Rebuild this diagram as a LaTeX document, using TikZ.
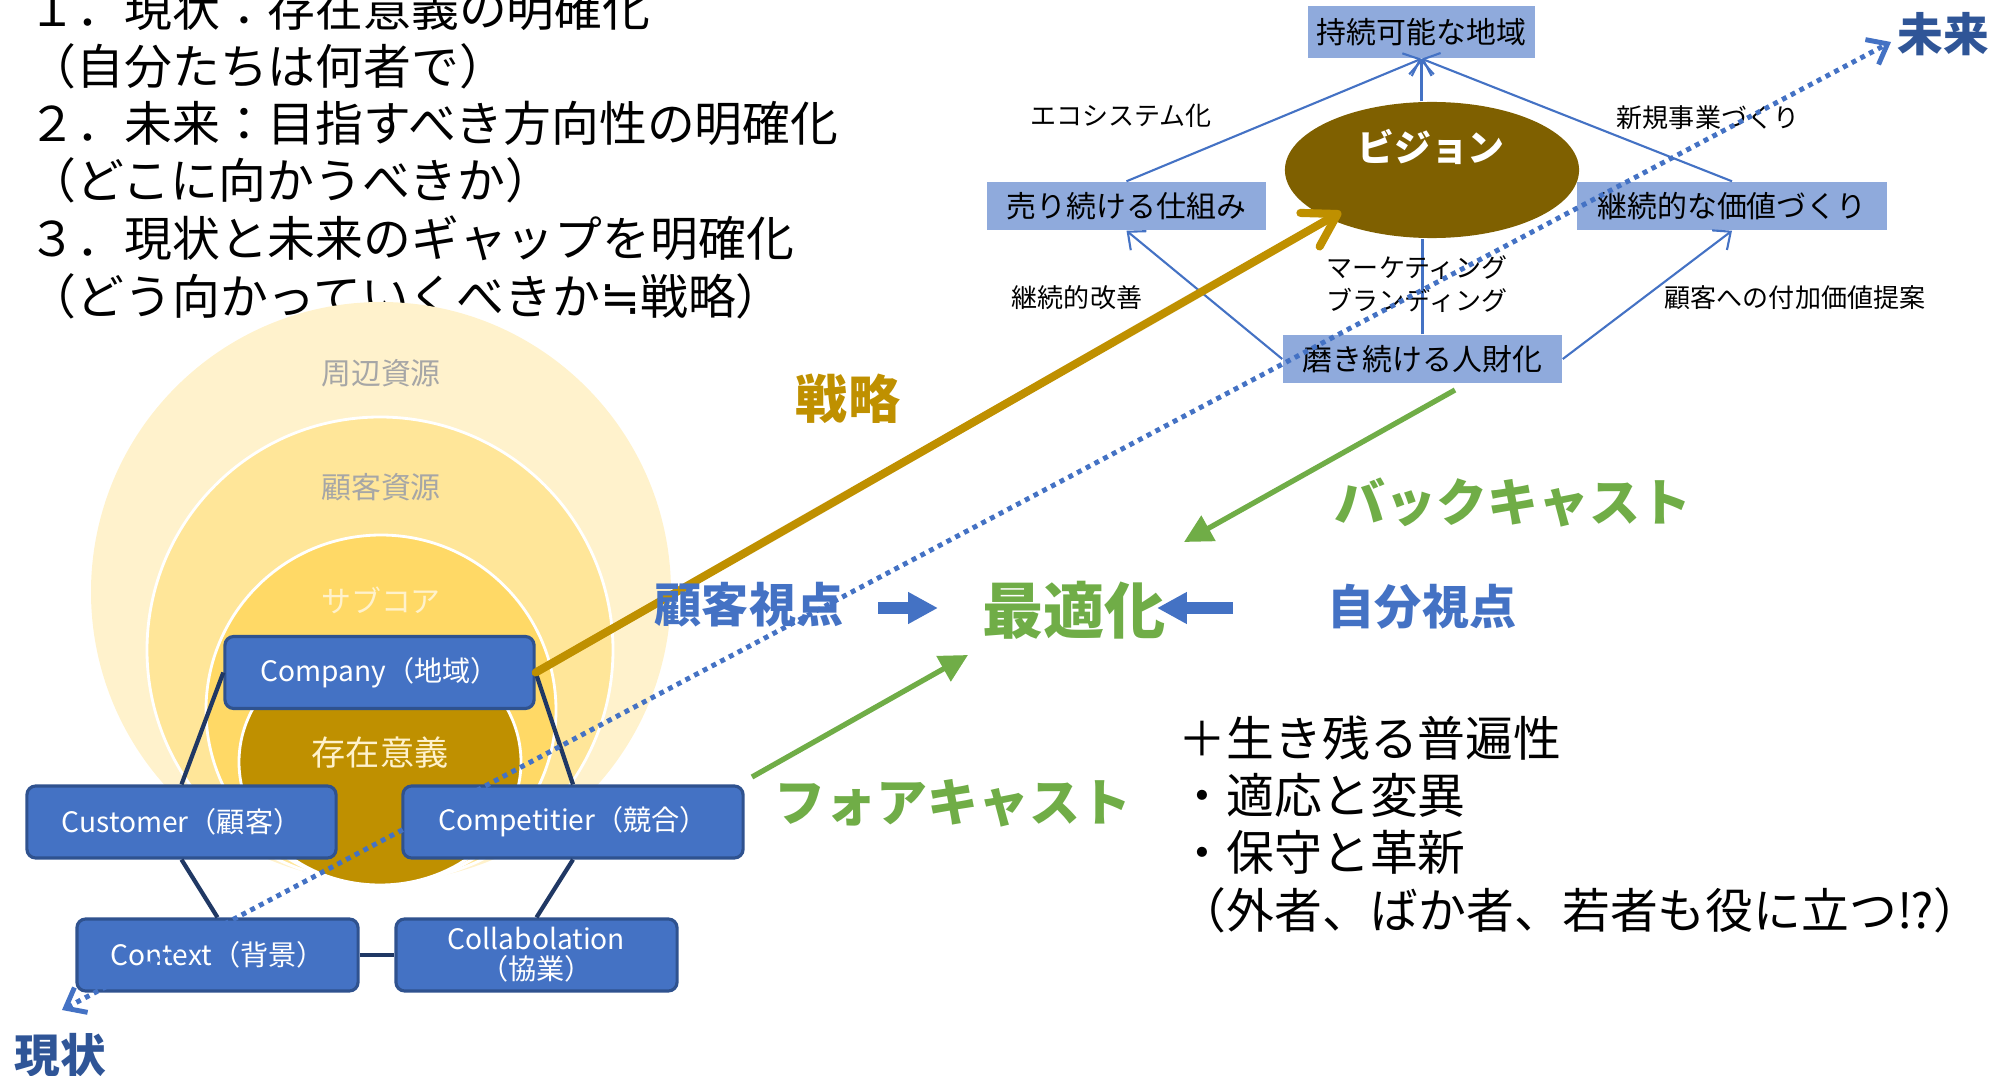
\documentclass[tikz,border=0pt]{standalone}
\usepackage{fontspec}
\setmainfont{Noto Sans CJK JP}
\newfontfamily\symfont{DejaVu Sans}
\usetikzlibrary{arrows.meta,shapes.geometric}
\definecolor{cpale}{HTML}{FFF2CC}
\definecolor{cmid}{HTML}{FFE699}
\definecolor{csub}{HTML}{FFD966}
\definecolor{ccore}{HTML}{BF9000}
\definecolor{chex}{HTML}{4472C4}
\definecolor{chexb}{HTML}{2F528F}
\definecolor{cnavy}{HTML}{203864}
\definecolor{clight}{HTML}{8FAADC}
\definecolor{cvision}{HTML}{7F6000}
\definecolor{cgreen}{HTML}{70AD47}
\definecolor{cdblue}{HTML}{2F5597}
\definecolor{cgray}{HTML}{A6A6A6}
\newcommand{\myfs}[1]{\fontsize{#1}{#1}\selectfont}
\tikzset{
  maintext/.style={anchor=west,inner sep=0pt,font=\myfs{13.6pt}},
  ring/.style={draw=white,line width=0.8pt},
  hexbox/.style={draw=chexb,line width=0.9pt,fill=chex,rounded corners=2.5pt,text=white,font=\fontsize{8pt}{8.6pt}\selectfont,align=center,inner sep=0pt,minimum height=0.72cm},
  hexline/.style={draw=cnavy,line width=1.2pt},
  visbox/.style={fill=clight,inner sep=0pt,font=\myfs{8.5pt},minimum height=0.48cm},
  visline/.style={draw=chex,line width=0.6pt},
  visarrow/.style={visline,-{Straight Barb[length=4pt,width=7pt]}},
  vislabel/.style={inner sep=0pt,font=\myfs{7.4pt}},
  greenarrow/.style={draw=cgreen,line width=1.5pt,-{Triangle[length=8pt,width=8pt]}},
  blockarrow/.style={draw=chex,line width=3.2pt,-{Triangle[length=8.5pt,width=8.5pt]}},
  bigbold/.style={inner sep=0pt,font=\bfseries\myfs{#1}},
}
\begin{document}
\begin{tikzpicture}[x=0.01cm,y=-0.01cm]
\useasboundingbox (0,0) rectangle (2005,1076);
% left text
\node[maintext] (t1) at (28,8) {１．現状：存在意義の明確化};
\node[maintext] (t2) at (28,66) {（自分たちは何者で）};
\node[maintext] (t3) at (28,123) {２．未来：目指すべき方向性の明確化};
\node[maintext] (t4) at (28,180) {（どこに向かうべきか）};
\node[maintext] (t5) at (28,238) {３．現状と未来のギャップを明確化};
\node[maintext] (t6) at (28,296) {（どう向かっていくべきか{\symfont ≒}戦略）};
% nested circles
\fill[cpale] (381,592) circle (290);
\filldraw[fill=cmid,ring] (380,650) circle (233);
\filldraw[fill=csub,ring] (381,710) circle (175);
\filldraw[fill=ccore,ring] (380,762) ellipse [x radius=141, y radius=123];
\node[text=cgray,font=\myfs{8.5pt}] (c1) at (381,373) {周辺資源};
\node[text=cgray,font=\myfs{8.5pt}] (c2) at (381,487) {顧客資源};
\node[text=cpale,font=\myfs{8.5pt}] (c3) at (381,600) {サブコア};
\node[text=cpale,font=\myfs{9.7pt}] (c4) at (380,753) {存在意義};
% hexagon boxes
\node[hexbox,minimum width=3.09cm] (company) at (379.5,672.5) {Company（地域）};
\node[hexbox,minimum width=3.09cm] (customer) at (181.5,822) {Customer（顧客）};
\node[hexbox,minimum width=3.40cm] (competitor) at (573,822) {Competitier（競合）};
\node[hexbox,minimum width=2.81cm] (context) at (217.5,955) {Context（背景）};
\node[hexbox,minimum width=2.81cm] (collab) at (536.5,955) {Collabolation\\（協業）};
\draw[hexline] (company.west) -- (customer.north);
\draw[hexline] (company.east) -- (competitor.north);
\draw[hexline] (customer.south) -- (context.north);
\draw[hexline] (competitor.south) -- (collab.north);
\draw[hexline] (context.east) -- (collab.west);
% vision diagram
\node[visbox,minimum width=2.27cm,minimum height=0.52cm] (jizoku) at (1421.5,32) {持続可能な地域};
\node[visbox,minimum width=2.79cm] (uru) at (1126.5,206) {売り続ける仕組み};
\node[visbox,minimum width=3.10cm] (kachi) at (1732,206) {継続的な価値づくり};
\node[visbox,minimum width=2.79cm] (migaki) at (1422.5,359) {磨き続ける人財化};
\node[ellipse,fill=cvision,minimum width=2.94cm,minimum height=1.36cm,inner sep=0pt] (vis) at (1432,170) {};
\node[text=white,bigbold=10.5pt] (vistext) at (1431,147) {ビジョン};
\draw[visarrow] (uru.north) -- (jizoku.south);
\draw[visarrow] (kachi.north) -- (jizoku.south);
\draw[visarrow] (jizoku.south |- vis.north) -- (jizoku.south);
\draw[visarrow] (migaki.west) -- (uru.south);
\draw[visarrow] (migaki.east) -- (kachi.south);
\draw[visline] (migaki.north) -- (migaki.north |- vis.south);
\node[vislabel] (l1) at (1121,116) {エコシステム化};
\node[vislabel] (l2) at (1708,118) {新規事業づくり};
\node[vislabel] (l3) at (1077,298) {継続的改善};
\node[vislabel] (l4) at (1417,268) {マーケティング};
\node[vislabel] (l5) at (1417,300) {ブランディング};
\node[vislabel] (l6) at (1795,298) {顧客への付加価値提案};
% strategy arrow
\coordinate (stip) at (1341,212);
\draw[draw=ccore,line width=2.3pt,line cap=round,-{Straight Barb[length=9pt,width=11pt,round]}] (company.east) -- (stip);
\node[text=ccore,bigbold=14.8pt] (senryaku) at (848,399) {戦略};
% labels around optimisation
\node[text=chex,bigbold=13.4pt] (kokyaku) at (749,605) {顧客視点};
\node[text=chex,bigbold=13.4pt] (jibun) at (1422,607) {自分視点};
\node[text=cgreen,bigbold=17.4pt] (saiteki) at (1074,610) {最適化};
\coordinate (ra1) at (878,608);
\coordinate (ra2) at (938,608);
\coordinate (la1) at (1233,608);
\coordinate (la2) at (1157,608);
\draw[blockarrow] (ra1) -- (ra2);
\draw[blockarrow] (la1) -- (la2);
% green arrows
\coordinate (bs) at (1455,390);
\coordinate (be) at (1184,542);
\coordinate (fs) at (752,777);
\coordinate (fe) at (968,655);
\draw[greenarrow] (bs) -- (be);
\draw[greenarrow] (fs) -- (fe);
\node[text=cgreen,bigbold=14.5pt] (back) at (1513,503) {バックキャスト};
\node[text=cgreen,bigbold=14.5pt] (fore) at (953,803) {フォアキャスト};
% dotted time arrow
\coordinate (genjo) at (62,1010);
\coordinate (mirai) at (1891,42);
\draw[draw=chex,line width=1.4pt,dash pattern=on 1.4pt off 1.4pt,{Straight Barb[length=5pt,width=8pt]}-{Straight Barb[length=5pt,width=8pt]}] (genjo) -- (mirai);
\node[text=cdblue,bigbold=13pt] (genjotext) at (60,1055) {現状};
\node[text=cdblue,bigbold=13pt] (miraitext) at (1943,34) {未来};
% right text
\node[maintext] (r1) at (1178,738) {＋生き残る普遍性};
\node[maintext] (r2) at (1178,795) {・適応と変異};
\node[maintext] (r3) at (1178,852) {・保守と革新};
\node[maintext] (r4) at (1178,910) {（外者、ばか者、若者も役に立つ⁉）};
\end{tikzpicture}
\end{document}
